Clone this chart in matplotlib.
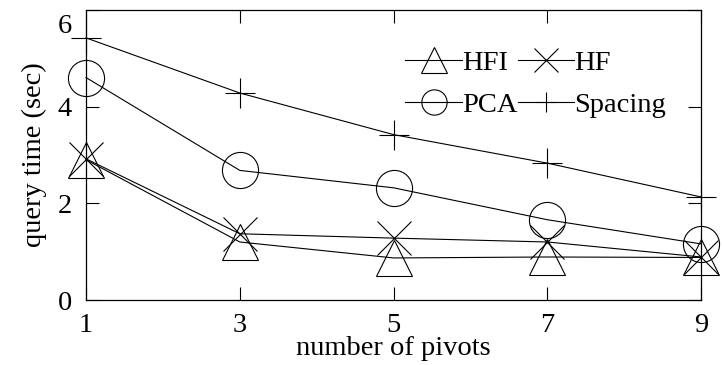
import matplotlib
matplotlib.use("Agg")
import matplotlib.pyplot as plt
from matplotlib.transforms import ScaledTranslation

# data
pivots = [1, 3, 5, 7, 9]
hfi = [2.90, 1.20, 0.87, 0.89, 0.88]
hf = [2.92, 1.37, 1.28, 1.20, 0.89]
pca = [4.60, 2.68, 2.32, 1.66, 1.16]
spacing = [5.42, 4.28, 3.42, 2.83, 2.13]

plt.rcParams["font.family"] = ["Liberation Serif", "DejaVu Serif"]
plt.rcParams["font.size"] = 20.5

fig = plt.figure(figsize=(7.23, 3.65), dpi=100)
ax = fig.add_axes([0.119, 0.178, 0.851, 0.795])

style = dict(color="black", lw=0.8, mfc="none", mec="black", mew=0.8, clip_on=False)
l_hfi, = ax.plot(pivots, hfi, marker="^", ms=26, label="HFI", **style)
l_hf, = ax.plot(pivots, hf, marker="x", ms=24, label="HF", **style)
l_pca, = ax.plot(pivots, pca, marker="o", ms=26, label="PCA", **style)
l_sp, = ax.plot(pivots, spacing, marker="+", ms=21, label="Spacing", **style)

ax.set_xlim(1, 9)
ax.set_ylim(0, 6)
ax.set_xticks(pivots)
ax.set_yticks([0, 2, 4, 6])
ax.tick_params(direction="in", top=True, right=True, length=9.5, width=0.8)
ax.tick_params(axis="x", pad=9)
ax.tick_params(axis="y", pad=10)
for s in ax.spines.values():
    s.set_linewidth(0.9)

# the "6" label sits a bit lower in the original
lab6 = ax.get_yticklabels()[-1]
lab6.set_transform(lab6.get_transform() + ScaledTranslation(0, -10 / 72, fig.dpi_scale_trans))

ax.set_xlabel("number of pivots", labelpad=-1)
ax.set_ylabel("query time (sec)", labelpad=8)

# order so rows read HFI HF / PCA Spacing
ax.legend([l_hfi, l_pca, l_hf, l_sp], ["HFI", "PCA", "HF", "Spacing"],
          ncol=2, frameon=False, markerscale=0.7, handlelength=2.0,
          handletextpad=0.0, columnspacing=0.0, labelspacing=0.55,
          loc="upper left", bbox_to_anchor=(0.50, 0.9), borderaxespad=0)

fig.savefig("out.png", dpi=100)
